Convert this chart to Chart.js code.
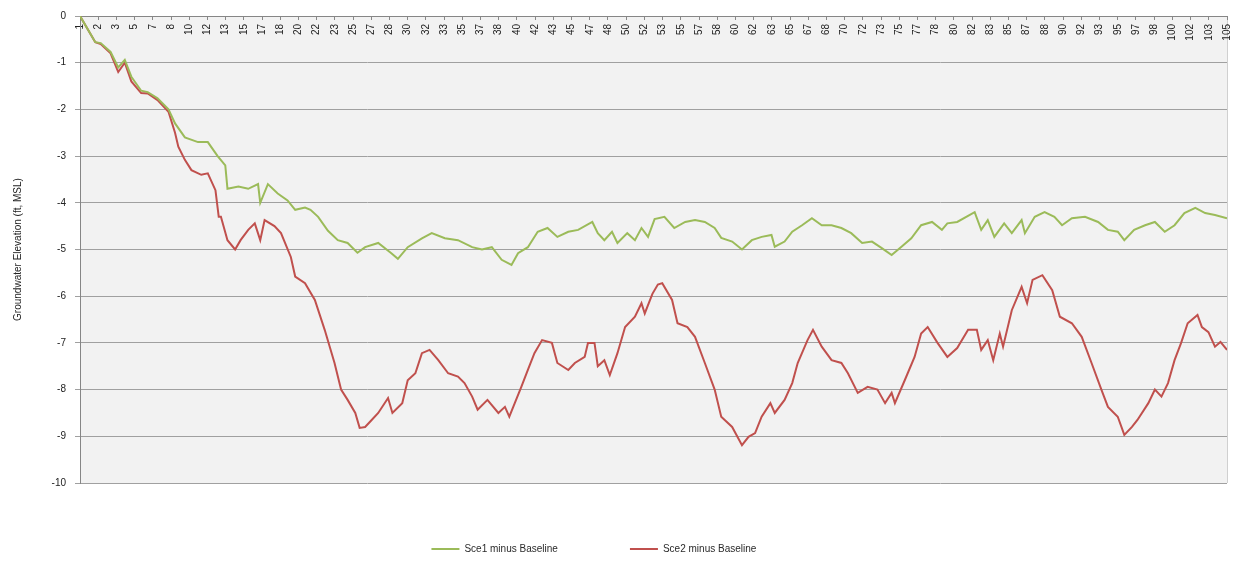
<!DOCTYPE html>
<html>
<head>
<meta charset="utf-8">
<script src="https://cdn.jsdelivr.net/npm/chart.js@4/dist/chart.umd.min.js"></script>
<style>
  html, body { margin: 0; padding: 0; background: #ffffff; }
  #wrap { width: 1237px; height: 569px; position: relative; }
</style>
</head>
<body>
<div id="wrap"><canvas id="c" width="1237" height="569"></canvas></div>
<script>
// ---- Data ----
const seriesNames = ['Sce1 minus Baseline', 'Sce2 minus Baseline'];

const tickLabels = [1,2,3,5,7,8,10,12,13,15,17,18,20,22,23,25,27,28,30,32,33,35,37,38,40,42,43,45,47,48,50,52,53,55,57,58,60,62,63,65,67,68,70,72,73,75,77,78,80,82,83,85,87,88,90,92,93,95,97,98,100,102,103,105];

const sce1Time = [0,1.4,1.9,2.8,3.5,4.1,4.7,5.6,6.2,7.1,8.1,8.7,9.6,10.8,11.7,12.6,13.3,13.5,14.5,15.4,16.3,16.5,17.2,18.1,19.0,19.7,20.6,21.1,21.8,22.7,23.6,24.5,25.4,26.1,27.3,28.5,29.1,30.0,31.3,32.2,33.4,34.6,35.9,36.8,37.7,38.6,39.5,40.1,41.0,41.9,42.8,43.7,44.7,45.6,46.9,47.4,48.0,48.7,49.2,50.1,50.8,51.4,52.0,52.6,53.5,54.4,55.4,56.3,57.2,58.1,58.7,59.7,60.6,61.5,62.4,63.3,63.6,64.5,65.2,66.1,67.0,67.9,68.8,69.7,70.6,71.6,72.5,73.4,74.3,75.2,76.1,77.0,78.0,78.9,79.4,80.3,81.9,82.5,83.1,83.7,84.6,85.3,86.2,86.5,87.4,88.3,89.2,89.9,90.8,92.0,93.2,94.1,95.0,95.6,96.5,97.5,98.4,99.3,100.2,101.1,102.1,103.0,103.9,105.0];
const sce1Values = [0,-0.56,-0.58,-0.77,-1.10,-0.94,-1.30,-1.60,-1.63,-1.76,-2.00,-2.30,-2.60,-2.70,-2.70,-3.00,-3.20,-3.70,-3.65,-3.70,-3.60,-4.00,-3.60,-3.80,-3.95,-4.15,-4.10,-4.15,-4.30,-4.60,-4.80,-4.86,-5.07,-4.95,-4.86,-5.08,-5.20,-4.95,-4.76,-4.65,-4.76,-4.80,-4.95,-5.00,-4.95,-5.22,-5.33,-5.08,-4.95,-4.62,-4.54,-4.73,-4.62,-4.58,-4.41,-4.65,-4.80,-4.62,-4.86,-4.65,-4.80,-4.54,-4.73,-4.35,-4.30,-4.54,-4.41,-4.37,-4.41,-4.54,-4.75,-4.83,-5.00,-4.80,-4.73,-4.69,-4.94,-4.83,-4.62,-4.48,-4.33,-4.48,-4.48,-4.54,-4.65,-4.86,-4.83,-4.97,-5.12,-4.94,-4.76,-4.48,-4.41,-4.58,-4.44,-4.41,-4.20,-4.58,-4.37,-4.73,-4.44,-4.65,-4.37,-4.65,-4.30,-4.20,-4.30,-4.48,-4.33,-4.30,-4.41,-4.58,-4.62,-4.80,-4.58,-4.48,-4.41,-4.62,-4.48,-4.22,-4.11,-4.22,-4.26,-4.33];

const sce2Time = [0,1.4,1.9,2.8,3.5,4.1,4.7,5.6,6.2,7.1,8.1,8.7,9.0,9.6,10.2,11.1,11.7,12.4,12.7,12.9,13.5,14.2,14.7,15.4,16.0,16.5,16.9,17.8,18.4,19.3,19.7,20.6,21.5,22.4,23.3,23.9,24.5,25.2,25.6,26.1,26.7,27.3,28.2,28.6,29.5,30.0,30.7,31.3,32.0,32.8,33.7,34.6,35.2,35.9,36.4,37.3,38.3,38.9,39.3,39.8,40.4,41.0,41.6,42.3,43.2,43.7,44.7,45.3,46.2,46.5,47.1,47.4,48.0,48.5,49.2,49.9,50.8,51.4,51.7,52.4,52.9,53.3,54.2,54.7,55.6,56.3,57.2,58.1,58.7,59.7,60.6,61.2,61.8,62.4,63.2,63.6,64.5,65.2,65.7,66.6,67.1,67.9,68.8,69.7,70.3,71.2,72.1,73.0,73.7,74.3,74.6,75.5,76.4,77.0,77.6,78.5,79.4,80.3,81.3,82.1,82.5,83.1,83.6,84.2,84.5,85.3,86.2,86.7,87.2,88.1,89.0,89.7,90.8,91.7,92.6,93.5,94.1,95.0,95.6,96.3,96.8,97.8,98.4,99.0,99.6,100.2,100.8,101.4,102.3,102.7,103.3,103.9,104.4,105.0];
const sce2Values = [0,-0.56,-0.60,-0.80,-1.20,-1.00,-1.40,-1.65,-1.66,-1.80,-2.05,-2.50,-2.80,-3.08,-3.30,-3.40,-3.37,-3.73,-4.30,-4.30,-4.80,-5.00,-4.80,-4.58,-4.44,-4.80,-4.37,-4.50,-4.65,-5.16,-5.58,-5.72,-6.08,-6.72,-7.43,-8.00,-8.22,-8.50,-8.82,-8.80,-8.65,-8.50,-8.18,-8.50,-8.29,-7.80,-7.65,-7.22,-7.15,-7.37,-7.65,-7.72,-7.86,-8.15,-8.43,-8.22,-8.50,-8.37,-8.58,-8.29,-7.94,-7.58,-7.22,-6.94,-7.00,-7.43,-7.58,-7.43,-7.30,-7.00,-7.00,-7.50,-7.37,-7.69,-7.22,-6.66,-6.44,-6.15,-6.37,-5.95,-5.75,-5.72,-6.08,-6.58,-6.66,-6.87,-7.43,-8.00,-8.58,-8.80,-9.19,-9.01,-8.93,-8.58,-8.29,-8.50,-8.22,-7.86,-7.43,-6.94,-6.72,-7.08,-7.37,-7.43,-7.65,-8.07,-7.94,-8.00,-8.29,-8.07,-8.29,-7.80,-7.30,-6.80,-6.66,-7.00,-7.30,-7.11,-6.72,-6.72,-7.15,-6.94,-7.37,-6.80,-7.08,-6.30,-5.80,-6.15,-5.65,-5.55,-5.87,-6.44,-6.58,-6.87,-7.43,-8.00,-8.37,-8.58,-8.97,-8.80,-8.65,-8.29,-8.00,-8.15,-7.86,-7.37,-7.00,-6.58,-6.40,-6.66,-6.77,-7.08,-6.98,-7.15];

const yTitle = 'Groundwater Elevation (ft, MSL)';

// ---- Chart ----
const FONT = 'Liberation Sans, Arial, sans-serif';

const plotBg = {
  id: 'plotBg',
  beforeDraw(chart) {
    const {ctx, chartArea: a} = chart;
    ctx.save();
    ctx.fillStyle = '#f2f2f2';
    ctx.fillRect(a.left, a.top, a.right - a.left, a.bottom - a.top);
    ctx.strokeStyle = '#d0d0d0';
    ctx.lineWidth = 1;
    ctx.beginPath();
    ctx.moveTo(a.right + 0.5, a.top);
    ctx.lineTo(a.right + 0.5, a.bottom);
    ctx.stroke();
    ctx.restore();
  }
};

function pts(xs, ys) { return xs.map((x, i) => ({x: x, y: ys[i]})); }

// extra blank space after each legend entry (wider gap like the reference legend)
const legendGaps = ['    ', '                 '];

new Chart(document.getElementById('c'), {
  type: 'line',
  data: {
    datasets: [
      { label: seriesNames[0], data: pts(sce1Time, sce1Values), borderColor: '#9bbb59', backgroundColor: '#9bbb59',
        borderWidth: 2, pointRadius: 0, tension: 0, xAxisID: 'x', yAxisID: 'y' },
      { label: seriesNames[1], data: pts(sce2Time, sce2Values), borderColor: '#c0504d', backgroundColor: '#c0504d',
        borderWidth: 2, pointRadius: 0, tension: 0, xAxisID: 'x', yAxisID: 'y' }
    ]
  },
  options: {
    responsive: false,
    animation: false,
    events: [],
    layout: { padding: { left: 8, right: 10, top: 16, bottom: 5 } },
    plugins: {
      legend: {
        position: 'bottom',
        labels: {
          usePointStyle: true, pointStyle: 'line', pointStyleWidth: 28,
          padding: 61, color: '#2a2a2a',
          font: { family: FONT, size: 10 },
          generateLabels(chart) {
            const items = Chart.defaults.plugins.legend.labels.generateLabels(chart);
            items.forEach((it, i) => { it.text = it.text + legendGaps[i]; });
            return items;
          }
        }
      },
      tooltip: { enabled: false }
    },
    scales: {
      x: { type: 'linear', min: 0, max: 105, display: false },
      xTop: {
        axis: 'x', type: 'category', labels: tickLabels.map(String),
        position: { y: 0 }, offset: false,
        afterFit(scale) { scale.paddingLeft = 0; scale.paddingRight = 0; },
        grid: { display: true, drawOnChartArea: false, drawTicks: true, tickLength: 3, color: '#888888' },
        border: { display: true, color: '#868686', width: 1 },
        ticks: { autoSkip: false, minRotation: 90, maxRotation: 90, padding: 5, color: '#222222',
                 font: { family: FONT, size: 10 } }
      },
      y: {
        type: 'linear', min: -10, max: 0, position: 'left',
        afterFit(scale) { scale.width = 72; },
        grid: { color: '#a0a0a0', lineWidth: 1, tickLength: 5, drawTicks: true },
        border: { display: true, color: '#868686', width: 1 },
        ticks: { stepSize: 1, padding: 9, color: '#222222', font: { family: FONT, size: 10 } },
        title: { display: true, text: yTitle, color: '#222222', padding: { top: 4, bottom: 4 },
                 font: { family: FONT, size: 10 } }
      }
    }
  },
  plugins: [plotBg]
});
</script>
</body>
</html>
